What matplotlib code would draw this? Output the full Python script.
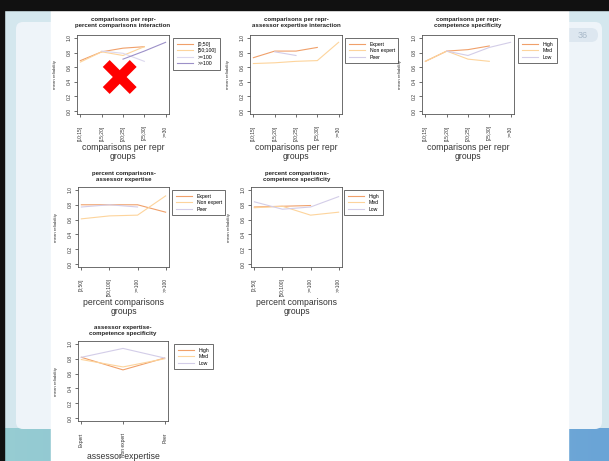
import matplotlib
matplotlib.use('Agg')
import matplotlib.pyplot as plt
from matplotlib.patches import Rectangle, FancyBboxPatch
from matplotlib.colors import LinearSegmentedColormap
import numpy as np

plt.rcParams['font.family'] = ['Liberation Sans', 'DejaVu Sans']

nan = np.nan

# category axes
comp_groups = ['[10;15]', '[15;20]', '[20;25]', '[25;30]', '>=30']
pct_groups = ['[0;50]', '[50;100]', '>=100', '>>100']
expertise = ['Expert', 'Non expert', 'Peer']
competence = ['High', 'Med', 'Low']

# panel 1: comparisons per repr x percent comparisons
p1_050 = [0.69, 0.81, 0.86, 0.88, nan]
p1_50100 = [0.67, 0.81, 0.76, 0.88, nan]
p1_ge100 = [nan, 0.82, 0.79, 0.68, nan]
p1_gg100 = [nan, nan, 0.71, 0.82, 0.94]

# panel 2: comparisons per repr x assessor expertise
p2_expert = [0.73, 0.82, 0.82, 0.87, nan]
p2_nonexpert = [0.65, 0.66, 0.68, 0.69, 0.94]
p2_peer = [nan, 0.81, 0.76, nan, nan]

# panel 3: comparisons per repr x competence specificity
p3_high = [0.68, 0.82, 0.84, 0.89, nan]
p3_med = [0.68, 0.82, 0.71, 0.68, nan]
p3_low = [nan, 0.82, 0.76, 0.87, 0.94]

# panel 4: percent comparisons x assessor expertise
p4_expert = [0.80, 0.80, 0.80, 0.70]
p4_nonexpert = [0.61, 0.65, 0.66, 0.92]
p4_peer = [0.77, 0.80, 0.77, nan]

# panel 5: percent comparisons x competence specificity
p5_high = [0.77, 0.78, 0.79, nan]
p5_med = [0.76, 0.78, 0.66, 0.70]
p5_low = [0.84, 0.74, 0.77, 0.91]

# panel 6: assessor expertise x competence specificity
p6_high = [0.82, 0.65, 0.81]
p6_med = [0.79, 0.69, 0.80]
p6_low = [0.82, 0.94, 0.81]

C4 = ['#f0a06a', '#fdd49c', '#dcd8ee', '#9c90c8']
C3 = ['#f0a06a', '#fdd49c', '#d3cde8']

W, H = 609, 461
fig = plt.figure(figsize=(W / 100, H / 100), dpi=100)

# slide background
bg = fig.add_axes([0, 0, 1, 1])
bg.set_xlim(0, W)
bg.set_ylim(H, 0)
bg.axis('off')
bg.add_patch(Rectangle((0, 0), W, H, color='#d4e7ee', zorder=0))
grad = np.linspace(0, 1, 200)[None, :]
cm = LinearSegmentedColormap.from_list('b', ['#97cdd2', '#7fb6d8', '#6aa4d6'])
bg.imshow(grad, cmap=cm, extent=(0, W, H, 428), aspect='auto', zorder=1)
bg.add_patch(FancyBboxPatch((16, 22), 586, 407, boxstyle='round,pad=0,rounding_size=7',
                            fc='#eef4f9', ec='none', zorder=2))
bg.add_patch(FancyBboxPatch((556, 28), 42, 14, boxstyle='round,pad=0,rounding_size=7',
                            fc='#dde7f0', ec='none', zorder=3))
bg.text(583, 35.5, '36', fontsize=6.5, color='#a7b8c8', ha='center', va='center', zorder=4)
bg.add_patch(Rectangle((51, 9), 517, H - 9, color='white', zorder=5))
bg.add_patch(Rectangle((0, 0), W, 10, color='#111111', zorder=6))
bg.add_patch(Rectangle((0, 0), 4, H, color='#111111', zorder=6))


def panel(box, title, cats, series, labels, colors, xlabel, title_gap, xlab_gap, leg_x):
    l, r, t, b = box
    ax = fig.add_axes([l / W, 1 - b / H, (r - l) / W, (b - t) / H])
    n = len(cats)
    x = np.arange(1, n + 1)
    for vals, lab, col in zip(series, labels, colors):
        ax.plot(x, vals, color=col, lw=0.8, label=lab)
    pad = 0.04 * (n - 1)
    ax.set_xlim(1 - pad, n + pad)
    ax.set_ylim(-0.04, 1.04)
    ax.set_xticks(x)
    ax.set_xticklabels(cats, rotation=90, fontsize=3.5, va='top')
    ax.set_yticks([0, 0.2, 0.4, 0.6, 0.8, 1.0])
    ax.set_yticklabels(['0.0', '0.2', '0.4', '0.6', '0.8', '1.0'], rotation=90,
                       fontsize=3.6, va='center')
    ax.tick_params(axis='x', length=2.2, width=0.5, pad=6, colors='#333333')
    ax.tick_params(axis='y', length=2.2, width=0.5, pad=1.5, colors='#333333')
    for s in ax.spines.values():
        s.set_linewidth(0.6)
        s.set_color('#555555')
    ax.set_ylabel('mean reliability', fontsize=3.2, color='#333333')
    ax.yaxis.set_label_coords(-20 / (r - l), 0.5)
    h = b - t
    ax.text(0.5, 1 + title_gap / h, title, transform=ax.transAxes, ha='center',
            va='center', fontsize=4.4, fontweight='bold', color='#222222', linespacing=1.15)
    ax.text(0.5, -xlab_gap / h, xlabel, transform=ax.transAxes, ha='center',
            va='center', fontsize=6.2, color='#333333', linespacing=1.1)
    leg = ax.legend(loc='upper left', bbox_to_anchor=(1 + leg_x / (r - l), 1 - 3 / h),
                    borderaxespad=0, fontsize=3.7, handlelength=3.2, handletextpad=0.9,
                    borderpad=0.7, labelspacing=0.3, fancybox=False, framealpha=1)
    leg.get_frame().set_edgecolor('#555555')
    leg.get_frame().set_linewidth(0.6)
    return ax


panel((77, 169, 35, 114), 'comparisons per repr-\npercent comparisons interaction',
      comp_groups, [p1_050, p1_50100, p1_ge100, p1_gg100], pct_groups, C4,
      'comparisons per repr\ngroups', 12.5, 38, 4)
panel((250, 342, 35, 114), 'comparisons per repr-\nassessor expertise interaction',
      comp_groups, [p2_expert, p2_nonexpert, p2_peer], expertise, C3,
      'comparisons per repr\ngroups', 12.5, 38, 3)
panel((422, 514, 35, 114), 'comparisons per repr-\ncompetence specificity',
      comp_groups, [p3_high, p3_med, p3_low], competence, C3,
      'comparisons per repr\ngroups', 12.5, 38, 4)
panel((78, 169, 187, 267), 'percent comparisons-\nassessor expertise',
      pct_groups, [p4_expert, p4_nonexpert, p4_peer], expertise, C3,
      'percent comparisons\ngroups', 10.5, 40, 3)
panel((251, 342, 187, 267), 'percent comparisons-\ncompetence specificity',
      pct_groups, [p5_high, p5_med, p5_low], competence, C3,
      'percent comparisons\ngroups', 10.5, 40, 2)
panel((78, 168, 341, 421), 'assessor expertise-\ncompetence specificity',
      expertise, [p6_high, p6_med, p6_low], competence, C3,
      'assessor expertise', 10.5, 35, 6)

# red cross over the first panel
ov = fig.add_axes([0, 0, 1, 1])
ov.set_xlim(0, W)
ov.set_ylim(H, 0)
ov.axis('off')
ov.plot([106.2, 133.2], [63.5, 90.5], color='#ff0000', lw=7.0, solid_capstyle='butt')
ov.plot([106.2, 133.2], [90.5, 63.5], color='#ff0000', lw=7.0, solid_capstyle='butt')

fig.savefig('out.png', dpi=100)
